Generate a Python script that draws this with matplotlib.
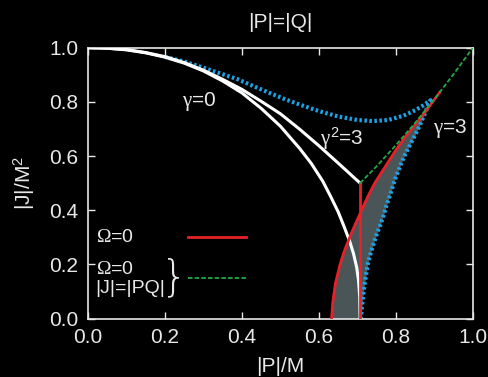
import matplotlib
matplotlib.use("Agg")
import matplotlib.pyplot as plt
import numpy as np

# gamma = 0 (Kerr-Newman) extremal curve
g0_x = [0.0, 0.05, 0.1, 0.15, 0.2, 0.25, 0.3, 0.35, 0.4, 0.45, 0.5, 0.55, 0.58, 0.61,
        0.63, 0.65, 0.665, 0.68, 0.69, 0.698, 0.703, 0.706, 0.707]
g0_y = [1.0, 0.998, 0.992, 0.981, 0.965, 0.943, 0.914, 0.877, 0.833, 0.776, 0.710, 0.628,
        0.573, 0.507, 0.452, 0.394, 0.341, 0.285, 0.239, 0.190, 0.140, 0.080, 0.0]

# gamma^2 = 3 curve
g3s_x = [0.0, 0.05, 0.1, 0.15, 0.2, 0.25, 0.3, 0.35, 0.4, 0.45, 0.5, 0.55, 0.6, 0.65, 0.707]
g3s_y = [1.0, 0.998, 0.993, 0.982, 0.967, 0.945, 0.917, 0.883, 0.846, 0.802, 0.756, 0.699,
         0.638, 0.574, 0.500]

# Omega = 0, |J| = |PQ|
grn_x = [0.707, 0.75, 0.8, 0.85, 0.9, 0.95, 1.0]
grn_y = [0.5, 0.5625, 0.64, 0.7225, 0.81, 0.9025, 1.0]

# Omega = 0 curve + vertical piece
red_y = [0.0, 0.06, 0.13, 0.2, 0.253, 0.314, 0.388, 0.45, 0.5, 0.56, 0.622, 0.67, 0.708, 0.77, 0.835]
red_x = [0.633, 0.636, 0.643, 0.655, 0.667, 0.684, 0.707, 0.727, 0.745, 0.772, 0.800, 0.824, 0.846, 0.880, 0.914]
vert_x = [0.707, 0.707]
vert_y = [0.0, 0.5]

# gamma = 3 curve (upper branch, then lower branch to the cusp)
bup_x = [0.2, 0.25, 0.3, 0.35, 0.39, 0.43, 0.47, 0.51, 0.55, 0.60, 0.65, 0.70, 0.74, 0.78, 0.82, 0.85, 0.87, 0.89]
bup_y = [0.966, 0.949, 0.926, 0.902, 0.883, 0.858, 0.834, 0.811, 0.790, 0.766, 0.746, 0.733, 0.729,
         0.733, 0.749, 0.769, 0.786, 0.806]
blo_y = [0.0, 0.03, 0.06, 0.1, 0.13, 0.165, 0.2, 0.23, 0.253, 0.28, 0.31, 0.34, 0.376, 0.41,
         0.44, 0.475, 0.511, 0.54, 0.57, 0.6, 0.622, 0.65, 0.68, 0.71, 0.74, 0.77, 0.806]
blo_x = [0.709, 0.711, 0.713, 0.716, 0.719, 0.723, 0.727, 0.732, 0.737, 0.743, 0.750, 0.758,
         0.767, 0.774, 0.781, 0.789, 0.797, 0.805, 0.813, 0.822, 0.830, 0.840, 0.851, 0.861,
         0.870, 0.879, 0.89]

plt.rcParams['font.family'] = ['Liberation Sans', 'DejaVu Sans']
plt.rcParams['mathtext.fontset'] = 'custom'
plt.rcParams['mathtext.rm'] = 'Liberation Serif'
plt.rcParams['mathtext.it'] = 'Liberation Serif'
plt.rcParams['mathtext.sf'] = 'Liberation Sans'
fg = '#e8e8e8'
fs = 15
lfs = 14

fig = plt.figure(figsize=(4.88, 3.77), dpi=100, facecolor='black')
ax = fig.add_axes([0.1803, 0.155, 0.7887, 0.7185])
ax.set_facecolor('black')

# grey region between Omega=0 curve and gamma=3 lower branch
fy = np.array(blo_y)
ax.fill_betweenx(fy, np.interp(fy, red_y, red_x), blo_x, color='#4a5558', lw=0, zorder=1)

ax.plot(bup_x + blo_x[::-1], bup_y + blo_y[::-1], color='#1aa3e8', lw=3.0,
        linestyle=(0, (0.6, 0.6)), zorder=2)
ax.plot(g0_x, g0_y, color='white', lw=2.2, zorder=3)
ax.plot(g3s_x, g3s_y, color='white', lw=2.2, zorder=3)
ax.plot(red_x, red_y, color='#e8202a', lw=2.0, zorder=4)
ax.plot(vert_x, vert_y, color='#e8202a', lw=2.0, zorder=4)
ax.plot(grn_x, grn_y, color='#22aa44', lw=1.3, linestyle=(0, (2.5, 1.2)), zorder=5)

# legend drawn by hand
ax.plot([0.26, 0.41], [0.30, 0.30], color='#e8202a', lw=2.0)
ax.plot([0.26, 0.41], [0.15, 0.15], color='#22aa44', lw=1.3, linestyle=(0, (2.5, 1.2)))
ax.text(0.02, 0.30, r'$\Omega$=0', color=fg, fontsize=lfs, va='center')
ax.text(0.02, 0.18, r'$\Omega$=0', color=fg, fontsize=lfs, va='center')
ax.text(0.02, 0.11, '|J|=|PQ|', color=fg, fontsize=lfs, va='center')
ax.text(0.225, 0.15, '}', color=fg, fontsize=30, ha='center', va='center',
        family=['DejaVu Sans'], fontweight='light')

ax.text(0.29, 0.80, r'$\gamma$=0', color=fg, fontsize=fs, ha='center', va='center')
ax.text(0.66, 0.665, r'$\gamma^{\mathsf{2}}$=3', color=fg, fontsize=fs, ha='center', va='center')
ax.text(0.94, 0.70, r'$\gamma$=3', color=fg, fontsize=fs, ha='center', va='center')

ax.set_xlim(0, 1)
ax.set_ylim(0, 1)
ticks = [0.0, 0.2, 0.4, 0.6, 0.8, 1.0]
ax.set_xticks(ticks)
ax.set_yticks(ticks)
ax.set_xticklabels(['%.1f' % t for t in ticks])
ax.set_yticklabels(['%.1f' % t for t in ticks])
ax.tick_params(direction='in', top=True, right=True, length=5, width=1,
               colors=fg, labelsize=fs, pad=7)
for s in ax.spines.values():
    s.set_color(fg)
    s.set_linewidth(1.2)

ax.set_xlabel('|P|/M', color=fg, fontsize=fs, labelpad=7)
ax.set_ylabel(r'|J|/M$^{\mathsf{2}}$', color=fg, fontsize=fs, labelpad=9)
ax.set_title('|P|=|Q|', color=fg, fontsize=fs, pad=14)

fig.savefig('out.png', dpi=100, facecolor='black')
